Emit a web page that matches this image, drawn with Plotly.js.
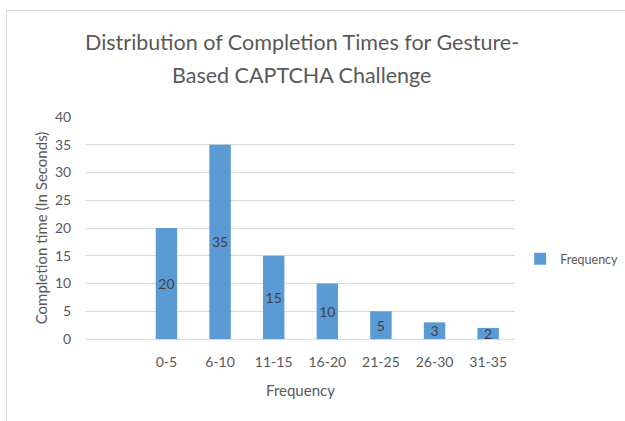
<!DOCTYPE html>
<html>
<head>
<meta charset="utf-8">
<script src="https://cdn.plot.ly/plotly-3.0.1.min.js"></script>
<style>
  html, body { margin: 0; padding: 0; background: #fff; }
  #wrap { position: relative; width: 625px; height: 421px; }
  #chart { width: 625px; height: 421px; }
  #frame { position: absolute; left: 6px; top: 10px; right: -2px; bottom: -2px;
           border-left: 1.5px solid #d9d9d9; border-top: 1.5px solid #d9d9d9; pointer-events: none; }
</style>
</head>
<body>
<div id="wrap">
  <div id="chart"></div>
  <div id="frame"></div>
</div>
<script>
const categories = ["0-5", "6-10", "11-15", "16-20", "21-25", "26-30", "31-35"];
const frequency = [20, 35, 15, 10, 5, 3, 2];
const yTicks = [0, 5, 10, 15, 20, 25, 30, 35, 40];
const titleLines = ["Distribution of Completion Times for Gesture-", "Based CAPTCHA Challenge"];

const FONT = "Lato, 'Open Sans', sans-serif";
const GREY = "#595959";

const trace = {
  type: "bar",
  name: "Frequency",
  x: categories,
  y: frequency,
  text: frequency.map(String),
  textposition: "inside",
  insidetextanchor: "middle",
  textangle: 0,
  cliponaxis: false,
  constraintext: "none",
  textfont: { family: FONT, size: 14, color: "#404040" },
  marker: { color: "#5B9BD5" },
  hoverinfo: "x+y"
};

const layout = {
  width: 625,
  height: 421,
  margin: { l: 86, r: 110, t: 117, b: 82, autoexpand: false },
  paper_bgcolor: "#ffffff",
  plot_bgcolor: "#ffffff",
  font: { family: FONT, color: GREY },
  bargap: 0.6,
  uniformtext: { mode: "show", minsize: 14 },
  annotations: titleLines.map((t, i) => ({
    text: t,
    xref: "paper", yref: "paper",
    x: 0.503, xanchor: "center",
    y: (339 - (42 + 33 * i)) / 222, yanchor: "middle",
    showarrow: false,
    font: { family: FONT, size: 21.5, color: GREY }
  })),
  xaxis: {
    type: "category",
    range: [-1.5, 6.5],
    showgrid: false,
    showline: false,
    ticks: "outside",
    ticklen: 10,
    tickcolor: "rgba(0,0,0,0)",
    tickfont: { family: FONT, size: 14, color: GREY },
    title: { text: "Frequency", font: { family: FONT, size: 15, color: GREY }, standoff: 16 }
  },
  yaxis: {
    range: [0, 40],
    tickvals: yTicks,
    ticktext: yTicks.map(String),
    showgrid: true,
    gridcolor: "#d9d9d9",
    gridwidth: 1,
    zeroline: true,
    zerolinecolor: "#d9d9d9",
    showline: false,
    ticks: "outside",
    ticklen: 11,
    tickcolor: "rgba(0,0,0,0)",
    tickfont: { family: FONT, size: 14, color: GREY },
    title: { text: "Completion time (In Seconds)", font: { family: FONT, size: 15, color: GREY }, standoff: 3 }
  },
  showlegend: true,
  legend: {
    x: 1.012, xanchor: "left",
    y: 0.36, yanchor: "middle",
    font: { family: FONT, size: 12.5, color: GREY },
    bgcolor: "rgba(0,0,0,0)",
    itemwidth: 30
  }
};

Plotly.newPlot("chart", [trace], layout, { displayModeBar: false, staticPlot: true });
</script>
</body>
</html>
